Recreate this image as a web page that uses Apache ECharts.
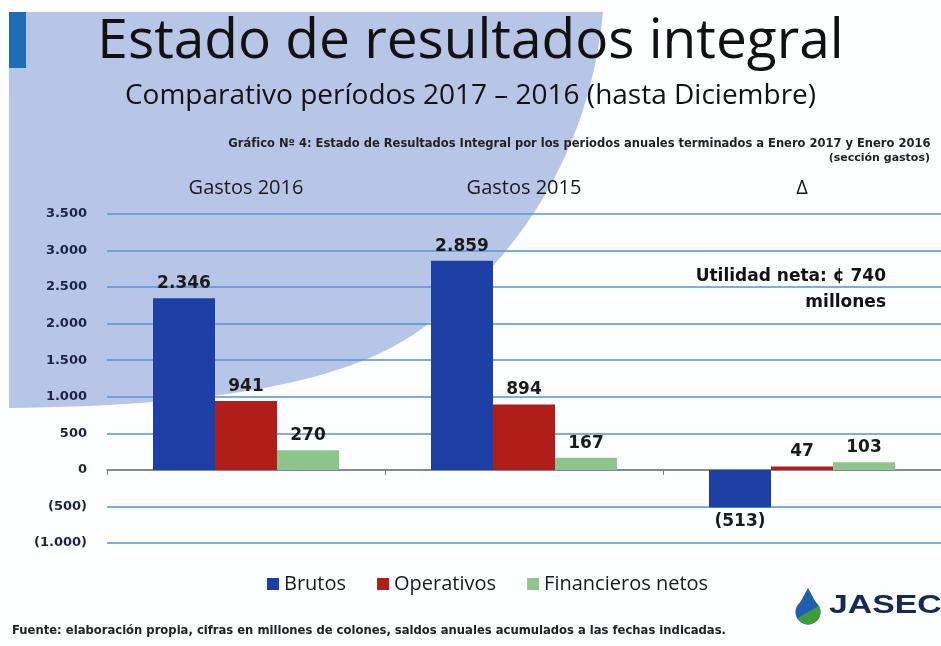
<!DOCTYPE html>
<html lang="es">
<head>
<meta charset="utf-8">
<title>Estado de resultados integral</title>
<script src="https://cdn.jsdelivr.net/npm/echarts@6/dist/echarts.min.js"></script>
<style>
  html, body { margin: 0; padding: 0; background: #fdfeff; }
  #panel {
    position: absolute; left: 0; top: 0; width: 941px; height: 646px;
    background: #b7c6e7;
    clip-path: path('M9,12 L603,12 C590,150 520,260 420,330 C350,380 230,405 9,408 Z');
  }
  #main { position: absolute; left: 0; top: 0; width: 941px; height: 646px; }
</style>
</head>
<body>
<div id="panel"></div>
<div id="main"></div>
<script>
    // datos (millones de colones)
    var categories = ['Gastos 2016', 'Gastos 2015', '\u0394'];
    var brutos = [2346, 2859, -513];
    var operativos = [941, 894, 47];
    var financieros = [270, 167, 103];
    var seriesNames = ['Brutos', 'Operativos', 'Financieros netos'];
    var colors = ['#1d40a6', '#b01e1a', '#8ec58c'];

    // 2.346  /  (513)
    function fmt(v) {
        var s = String(Math.abs(v)).replace(/\B(?=(\d{3})+(?!\d))/g, '.');
        return v < 0 ? '(' + s + ')' : s;
    }

    function barSeries(name, vals, color) {
        return {
            name: name,
            type: 'bar',
            barWidth: 62,
            barGap: '0%',
            itemStyle: { color: color },
            label: {
                show: true,
                position: 'top',
                distance: 6,
                fontFamily: 'DejaVu Sans',
                fontWeight: 'bold',
                fontSize: 17,
                color: '#1a1a1a',
                formatter: function (p) { return fmt(p.value); }
            },
            data: vals.map(function (v) {
                return v < 0 ? { value: v, label: { position: 'bottom' } } : v;
            })
        };
    }

    var myChart = echarts.init(document.getElementById('main'));
    var option = {
        backgroundColor: 'transparent',
        animation: false,
        graphic: [
            { type: 'rect', left: 9, top: 12, shape: { width: 17, height: 56 }, style: { fill: '#1f6db5' } },
            { type: 'text', left: 'center', top: 15, style: { text: 'Estado de resultados integral', font: '55px "Open Sans"', fill: '#111' } },
            { type: 'text', left: 'center', top: 82, style: { text: 'Comparativo per\u00edodos 2017 \u2013 2016 (hasta Diciembre)', font: '28px "Open Sans"', fill: '#111' } },
            { type: 'text', right: 11, top: 138, style: { text: 'Gr\u00e1fico N\u00ba 4: Estado de Resultados Integral por los periodos anuales terminados a Enero 2017 y Enero 2016', font: 'bold 11.5px "DejaVu Sans"', fill: '#222' } },
            { type: 'text', right: 11, top: 153, style: { text: '(secci\u00f3n gastos)', font: 'bold 11px "DejaVu Sans"', fill: '#222' } },
            { type: 'text', right: 55, top: 268, style: { text: 'Utilidad neta: \u00a2 740', font: 'bold 17px "DejaVu Sans"', fill: '#111' } },
            { type: 'text', right: 55, top: 294, style: { text: 'millones', font: 'bold 17px "DejaVu Sans"', fill: '#111' } },
            { type: 'text', left: 12, top: 625, style: { text: 'Fuente: elaboraci\u00f3n propia, cifras en millones de colones, saldos anuales acumulados a las fechas indicadas.', font: 'bold 11.6px "DejaVu Sans"', fill: '#222' } },
            // logo JASEC
            { type: 'polygon', shape: { points: [[808, 588], [796, 610], [820, 610]] }, style: { fill: '#1f5fb0' } },
            { type: 'circle', shape: { cx: 808, cy: 612, r: 12.5 }, style: { fill: '#1f5fb0' } },
            { type: 'sector', shape: { cx: 808, cy: 612, r: 12.5, startAngle: -Math.PI / 6, endAngle: Math.PI * 5 / 6 }, style: { fill: '#3f9a3c' } },
            { type: 'text', left: 829, top: 594, scaleX: 1.35, style: { text: 'JASEC', font: 'bold 25px "Liberation Sans"', fill: '#14285a' } }
        ],
        legend: {
            top: 569,
            left: 262,
            icon: 'rect',
            itemWidth: 12,
            itemHeight: 12,
            itemGap: 31,
            data: seriesNames,
            textStyle: { fontFamily: 'Open Sans', fontSize: 20, color: '#1a1a1a' }
        },
        grid: { left: 107, top: 214, width: 843, bottom: 103 },
        xAxis: [{
            type: 'category',
            data: categories,
            axisLine: { onZero: true, lineStyle: { color: '#7f7f7f', width: 1.5 } },
            axisTick: { show: true, length: 5, lineStyle: { color: '#7f7f7f' } },
            axisLabel: { show: false }
        }, {
            type: 'category',
            position: 'top',
            data: categories,
            axisLine: { show: false },
            axisTick: { show: false },
            axisLabel: { margin: 16, fontFamily: 'Open Sans', fontSize: 20, color: '#1a1a1a' }
        }],
        yAxis: {
            type: 'value',
            min: -1000,
            max: 3500,
            interval: 500,
            axisLine: { show: false },
            axisTick: { show: false },
            splitLine: { lineStyle: { color: '#5095d4', width: 1.5 } },
            axisLabel: {
                margin: 20,
                fontFamily: 'DejaVu Sans',
                fontWeight: 'bold',
                fontSize: 13,
                color: '#1c2244',
                formatter: fmt
            }
        },
        series: [
            barSeries(seriesNames[0], brutos, colors[0]),
            barSeries(seriesNames[1], operativos, colors[1]),
            barSeries(seriesNames[2], financieros, colors[2])
        ]
    };
    myChart.setOption(option);
</script>
</body>
</html>
